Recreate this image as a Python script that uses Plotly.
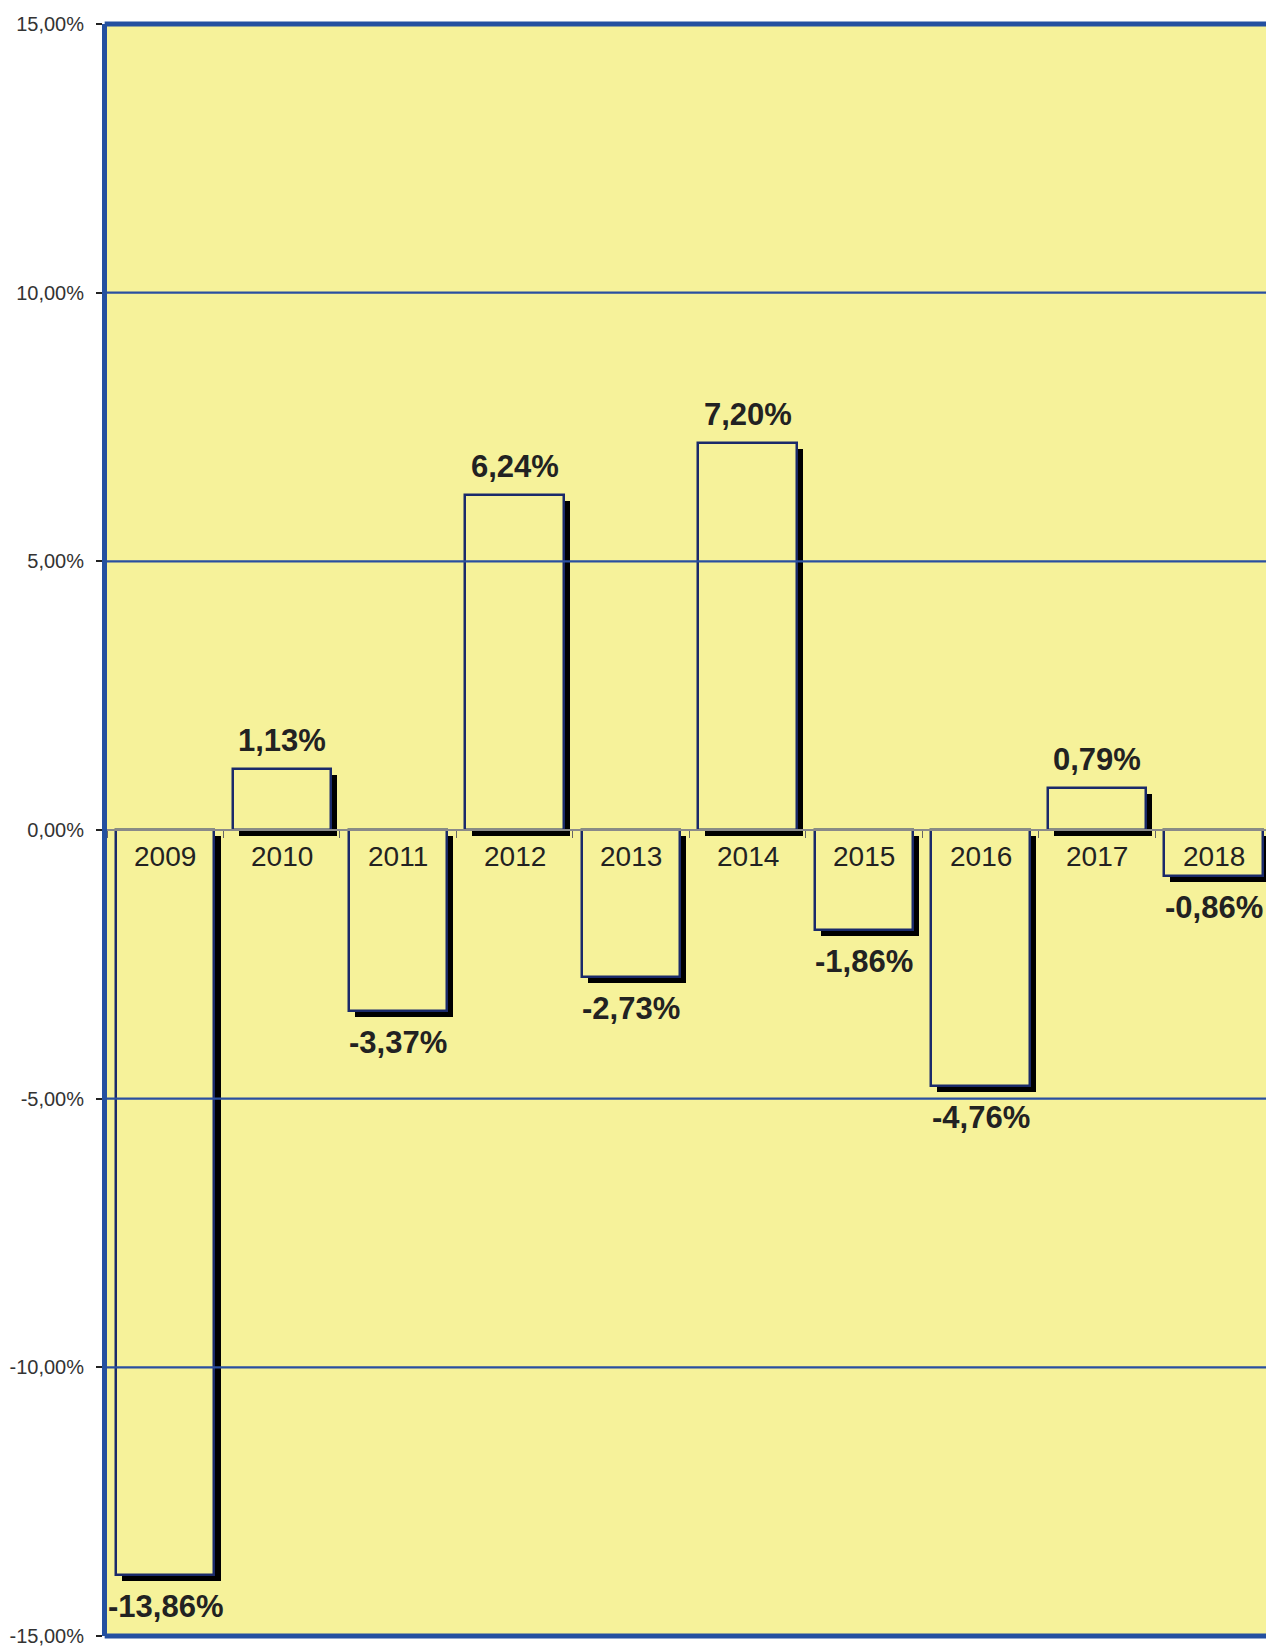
import plotly.graph_objects as go

years = ["2009", "2010", "2011", "2012", "2013", "2014", "2015", "2016", "2017", "2018"]
values = [-13.86, 1.13, -3.37, 6.24, -2.73, 7.20, -1.86, -4.76, 0.79, -0.86]
labels = ["-13,86%", "1,13%", "-3,37%", "6,24%", "-2,73%", "7,20%", "-1,86%", "-4,76%", "0,79%", "-0,86%"]
y_ticks = [-15, -10, -5, 0, 5, 10, 15]
y_ticktext = ["-15,00%", "-10,00%", "-5,00%", "0,00%", "5,00%", "10,00%", "15,00%"]

BG = "#F6F29A"
GRID = "#2A4FA0"
OUTLINE = "#1A2A6A"
FONT = "Liberation Sans, Arial, sans-serif"

xs = list(range(len(years)))
bw = 0.845
sx = 0.052   # shadow shift in category units
sy = 0.115   # shadow shift in %

fig = go.Figure()
# shadows
fig.add_trace(go.Bar(
    x=[x + sx for x in xs], y=values, base=[-sy] * len(values), width=bw,
    marker=dict(color="black", line=dict(width=0)), hoverinfo="skip", showlegend=False))
# bars
fig.add_trace(go.Bar(
    x=xs, y=values, width=bw,
    marker=dict(color=BG, line=dict(color=OUTLINE, width=2.5)), showlegend=False))

shapes = []
for t in y_ticks:
    if t in (-15, 0, 15):
        continue
    shapes.append(dict(type="line", xref="paper", yref="y", x0=0, x1=1, y0=t, y1=t,
                       line=dict(color=GRID, width=2.2), layer="above"))
for yp in (0, 1):
    shapes.append(dict(type="line", xref="paper", yref="paper", x0=-0.002, x1=1, y0=yp, y1=yp,
                       line=dict(color="#2450A0", width=5), layer="above"))

annotations = []
for x, v, lab, yr in zip(xs, values, labels, years):
    annotations.append(dict(x=x, y=0, xref="x", yref="y", text=yr, showarrow=False,
                            yanchor="top", yshift=-9,
                            font=dict(family=FONT, size=28, color="#222222")))
    if v >= 0:
        annotations.append(dict(x=x, y=v, xref="x", yref="y", text=lab, showarrow=False,
                                yanchor="bottom", yshift=9,
                                font=dict(family=FONT, size=31, color="#222222", weight="bold")))
    else:
        annotations.append(dict(x=x, y=v, xref="x", yref="y", text=lab, showarrow=False,
                                yanchor="top", yshift=-12,
                                font=dict(family=FONT, size=31, color="#222222", weight="bold")))

fig.update_layout(
    width=1266, height=1646,
    margin=dict(l=107, r=0, t=24, b=10, autoexpand=False),
    paper_bgcolor="white", plot_bgcolor=BG,
    barmode="overlay", bargap=0,
    separators=",.",
    font=dict(family=FONT),
    shapes=shapes, annotations=annotations,
    xaxis=dict(range=[-0.5, 9.45], anchor="free", position=0.5,
               showline=True, linecolor="#8A8A8A", linewidth=1.5,
               ticks="outside", tickvals=[i - 0.5 for i in range(len(years) + 1)],
               ticklen=7, tickwidth=1.2, tickcolor="#666666",
               showticklabels=False, showgrid=False, zeroline=False),
    yaxis=dict(range=[-15, 15], tickvals=y_ticks, ticktext=y_ticktext,
               showgrid=False, zeroline=False,
               showline=True, linecolor="#2450A0", linewidth=5,
               ticks="outside", ticklen=6, tickwidth=1.5, tickcolor="#222222",
               ticklabelstandoff=8, automargin=False, ticklabeloverflow="allow",
               tickfont=dict(family=FONT, size=20, color="#333333")),
)

fig.write_html("out.html", config={"displayModeBar": False},
               post_script="document.body.style.margin='0';document.body.style.overflow='hidden';")
